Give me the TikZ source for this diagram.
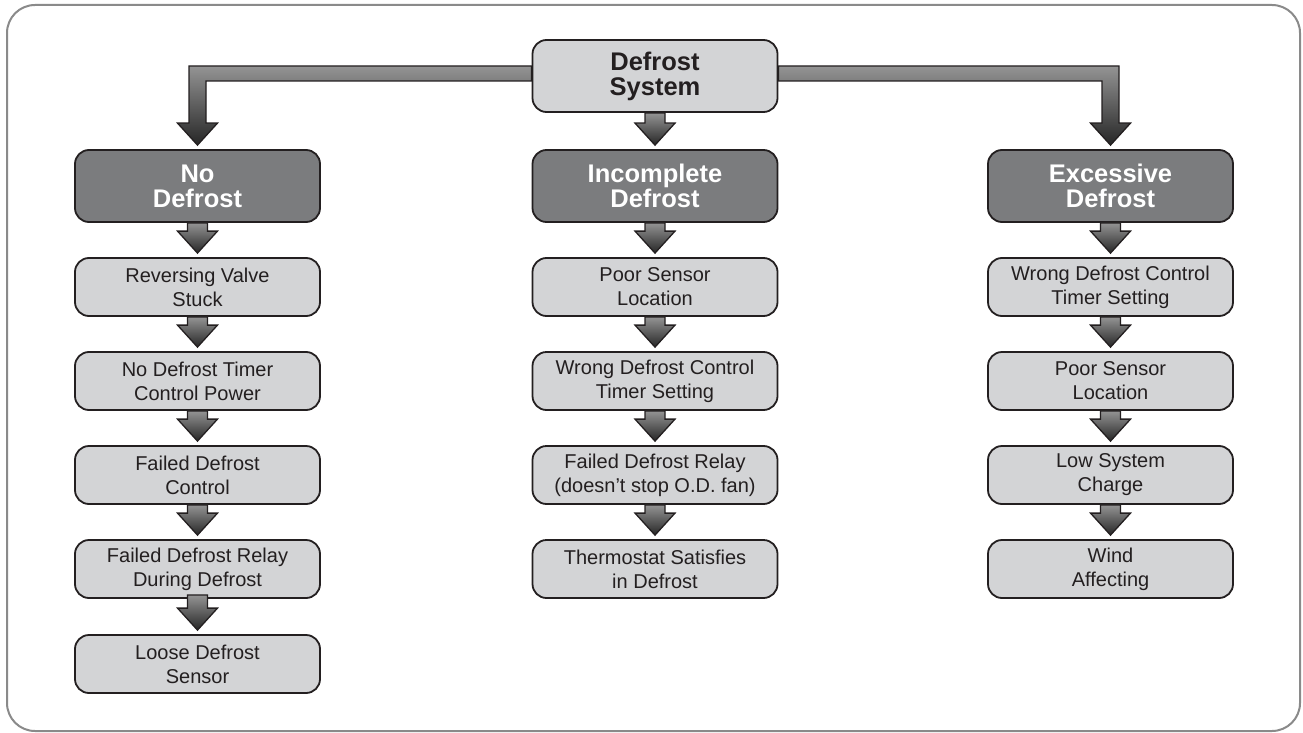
\documentclass[tikz,border=0pt]{standalone}
\usepackage{fontspec}
\setmainfont{Liberation Sans}
\usetikzlibrary{calc}
\definecolor{lightbox}{HTML}{D3D4D6}
\definecolor{darkbox}{HTML}{7B7C7E}
\definecolor{framegray}{HTML}{8A8A8A}
\definecolor{ink}{HTML}{231F20}
\tikzset{
  box/.style={draw=ink, line width=1.8pt, rounded corners=14pt, minimum width=245pt, inner sep=0pt, align=center},
  subbox/.style={box, fill=lightbox, minimum height=58pt, text=ink, font=\fontsize{20}{24}\selectfont},
  headbox/.style={box, fill=darkbox, minimum height=72pt, text=white, font=\bfseries\fontsize{25.5}{25}\selectfont},
  topbox/.style={box, fill=lightbox, minimum height=72pt, text=ink, font=\bfseries\fontsize{25.5}{25}\selectfont},
  blockarrow/.style={draw=ink, line width=1.3pt, top color=black!42, bottom color=black!85, line join=miter},
}
\newcommand\blockarr[3][0pt]{%
  \path[blockarrow] let \p1=(#2.south), \p2=(#3.north) in
  (\x1-10pt,\y1+#1) -- (\x1-10pt,\y2+26pt) -- (\x1-20pt,\y2+26pt) -- (\x1,\y2+4pt)
  -- (\x1+20pt,\y2+26pt) -- (\x1+10pt,\y2+26pt) -- (\x1+10pt,\y1+#1) -- cycle;}
\begin{document}
\begin{tikzpicture}[x=1pt,y=-1pt]
\useasboundingbox (0,0) rectangle (1303,733);
\draw[framegray, line width=2pt, rounded corners=28pt] (7,5) rectangle (1300,731);

\node[topbox] (sys) at (655,76) {Defrost\\System};
\node[headbox] (nod) at (197.5,186) {No\\Defrost};
\node[headbox] (inc) at (655,186) {Incomplete\\Defrost};
\node[headbox] (exc) at (1110.5,186) {Excessive\\Defrost};

\node[subbox] (n1) at (197.5,287) {Reversing Valve\\Stuck};
\node[subbox] (n2) at (197.5,381) {No Defrost Timer\\Control Power};
\node[subbox] (n3) at (197.5,475) {Failed Defrost\\Control};
\node[subbox] (n4) at (197.5,569) {Failed Defrost Relay\\During Defrost};
\node[subbox] (n5) at (197.5,664) {Loose Defrost\\Sensor};

\node[subbox] (i1) at (655,287) {Poor Sensor\\Location};
\node[subbox] (i2) at (655,381) {Wrong Defrost Control\\Timer Setting};
\node[subbox] (i3) at (655,475) {Failed Defrost Relay\\(doesn’t stop O.D. fan)};
\node[subbox] (i4) at (655,569) {Thermostat Satisfies\\in Defrost};

\node[subbox] (e1) at (1110.5,287) {Wrong Defrost Control\\Timer Setting};
\node[subbox] (e2) at (1110.5,381) {Poor Sensor\\Location};
\node[subbox] (e3) at (1110.5,475) {Low System\\Charge};
\node[subbox] (e4) at (1110.5,569) {Wind\\Affecting};

% elbow arrows
\path[blockarrow] let \p1=(sys.west), \p2=(nod.north) in
  (\x1,\y1+10pt) -- (\x2-8.5pt,\y1+10pt) -- (\x2-8.5pt,\y2+26pt) -- (\x2-20pt,\y2+26pt)
  -- (\x2,\y2+4pt) -- (\x2+20pt,\y2+26pt) -- (\x2+8.5pt,\y2+26pt) -- (\x2+8.5pt,\y1-5pt)
  -- (\x1,\y1-5pt) -- cycle;
\path[blockarrow] let \p1=(sys.east), \p2=(exc.north) in
  (\x1,\y1+10pt) -- (\x2+8.5pt,\y1+10pt) -- (\x2+8.5pt,\y2+26pt) -- (\x2+20pt,\y2+26pt)
  -- (\x2,\y2+4pt) -- (\x2-20pt,\y2+26pt) -- (\x2-8.5pt,\y2+26pt) -- (\x2-8.5pt,\y1-5pt)
  -- (\x1,\y1-5pt) -- cycle;
\blockarr{sys}{inc}

\blockarr{nod}{n1}
\blockarr{n1}{n2}
\blockarr{n2}{n3}
\blockarr{n3}{n4}
\blockarr[4pt]{n4}{n5}

\blockarr{inc}{i1}
\blockarr{i1}{i2}
\blockarr{i2}{i3}
\blockarr{i3}{i4}

\blockarr{exc}{e1}
\blockarr{e1}{e2}
\blockarr{e2}{e3}
\blockarr{e3}{e4}
\end{tikzpicture}
\end{document}
